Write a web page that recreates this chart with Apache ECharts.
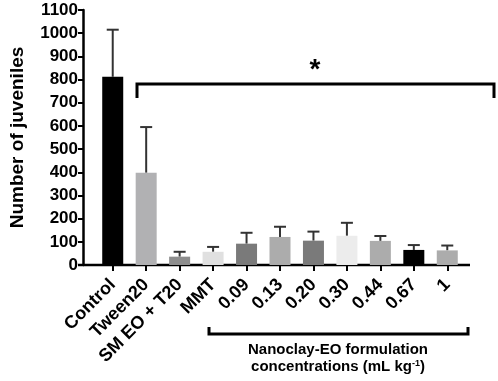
<!DOCTYPE html>
<html>
<head>
<meta charset="utf-8">
<script src="https://cdn.jsdelivr.net/npm/echarts@6/dist/echarts.min.js"></script>
<style>
  html, body { margin: 0; padding: 0; background: #fff; }
  #chart { width: 498px; height: 381px; }
</style>
</head>
<body>
<div id="chart"></div>
<script>
const categories = ['Control', 'Tween20', 'SM EO + T20', 'MMT', '0.09', '0.13', '0.20', '0.30', '0.44', '0.67', '1']
const means = [812, 398, 36, 57, 92, 121, 105, 126, 104, 65, 63]
const errors = [203, 197, 21, 21, 47, 44, 39, 56, 21, 21, 21]
const barColors = ['#000000', '#b1b1b3', '#8d8d8d', '#e0e0e0', '#7a7a7a', '#acacac', '#7a7a7a', '#ececec', '#acacac', '#000000', '#acacac']
const yTicks = [0, 1100, 100]

const font = 'Liberation Sans, Arial, sans-serif'
const chart = echarts.init(document.getElementById('chart'))

let option = {
  animation: false,
  grid: { left: 92, right: 34, top: 10, bottom: 116 },
  xAxis: {
    type: 'category',
    data: categories,
    axisLine: { show: false },
    axisTick: { show: true, alignWithLabel: true, length: 6, lineStyle: { color: '#000', width: 2 } },
    axisLabel: {
      rotate: 45, interval: 0, margin: 17,
      color: '#000', fontWeight: 'bold', fontSize: 18, fontFamily: font
    }
  },
  yAxis: {
    type: 'value',
    min: yTicks[0],
    max: yTicks[1],
    interval: yTicks[2],
    offset: 13,
    name: 'Number of juveniles',
    nameLocation: 'middle',
    nameGap: 56,
    nameTextStyle: { color: '#000', fontWeight: 'bold', fontSize: 19, fontFamily: font },
    axisLine: { show: true, lineStyle: { color: '#000', width: 2.5 } },
    axisTick: { show: true, length: 5, lineStyle: { color: '#000', width: 2 } },
    axisLabel: {
      color: '#000', fontWeight: 'bold', fontSize: 17, fontFamily: font, margin: 5,
      formatter: v => String(v)
    },
    splitLine: { show: false }
  },
  series: [
    {
      type: 'bar',
      barWidth: 21,
      data: means.map((v, i) => ({ value: v, itemStyle: { color: barColors[i] } }))
    },
    {
      type: 'custom',
      data: means.map((v, i) => [i, v, v + errors[i]]),
      z: 1,
      renderItem (params, api) {
        const lo = api.coord([api.value(0), api.value(1)])
        const hi = api.coord([api.value(0), api.value(2)])
        const style = { stroke: '#333', lineWidth: 2 }
        return {
          type: 'group',
          children: [
            { type: 'line', shape: { x1: lo[0], y1: lo[1], x2: hi[0], y2: hi[1] }, style },
            { type: 'line', shape: { x1: hi[0] - 6, y1: hi[1], x2: hi[0] + 6, y2: hi[1] }, style }
          ]
        }
      }
    }
  ],
  graphic: [
    // x axis line spanning past the category bands
    { type: 'line', shape: { x1: 78, y1: 265, x2: 470, y2: 265 }, style: { stroke: '#000', lineWidth: 2.5 } },
    // significance bracket
    { type: 'polyline', shape: { points: [[137, 98], [137, 84], [494, 84], [494, 98]] }, style: { stroke: '#000', lineWidth: 3, fill: null } },
    { type: 'text', x: 315, y: 70, style: { text: '*', font: 'bold 28px ' + font, fill: '#000', align: 'center', verticalAlign: 'middle' } },
    // nanoclay group bracket
    { type: 'polyline', shape: { points: [[209, 327], [209, 334], [468, 334], [468, 327]] }, style: { stroke: '#000', lineWidth: 3, fill: null } },
    { type: 'text', x: 338, y: 350, style: { text: 'Nanoclay-EO formulation', font: 'bold 15px ' + font, fill: '#000', align: 'center', verticalAlign: 'middle' } },
    {
      type: 'text', x: 338, y: 367,
      style: {
        text: 'concentrations (mL kg{sup|-1})',
        font: 'bold 15px ' + font, fill: '#000', align: 'center', verticalAlign: 'middle',
        rich: { sup: { font: 'bold 9px ' + font, fill: '#000', verticalAlign: 'top', padding: [0, 0, 7, 0] } }
      }
    }
  ]
}
chart.setOption(option)
</script>
</body>
</html>
